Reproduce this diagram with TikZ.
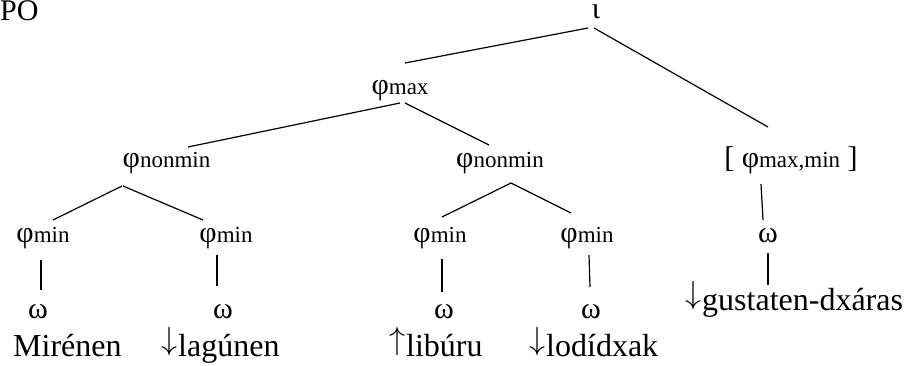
\documentclass[tikz,border=0pt]{standalone}
\usepackage{fontspec}
\usepackage{graphicx}
\setmainfont{Liberation Serif}
\usetikzlibrary{calc}
\newcommand\gksz{\fontsize{30}{36}\selectfont}
\newcommand\sxsz{\fontsize{23}{28}\selectfont}
\newcommand\wordsz{\fontsize{32}{38}\selectfont}
\newcommand\ph[1]{{\gksz φ}{\sxsz #1}}
\newcommand\darr{\resizebox{16pt}{!}{\raisebox{\depth}{$\downarrow$}}\kern1pt}
\newcommand\uarr{\resizebox{16pt}{!}{\raisebox{\depth}{$\uparrow$}}\kern1pt}
\tikzset{
  lab/.style={inner sep=0pt, anchor=base, font=\gksz},
  wordlab/.style={inner sep=0pt, anchor=base west, font=\wordsz},
  edge/.style={line width=1.2pt, black}
}
\begin{document}
\begin{tikzpicture}[x=1pt,y=-1pt]
\useasboundingbox (0,0) rectangle (907,366);
% nodes
\node[inner sep=0pt, anchor=base west, font=\gksz] (po) at (0,21) {PO};
\node[lab] (io) at (596,19) {ι};
\node[lab] (pmax) at (400,95) {\ph{max}};
\node[lab] (nmL) at (166.5,168) {\ph{nonmin}};
\node[lab] (nmM) at (500,168) {\ph{nonmin}};
\node[lab] (pmm) at (791,168) {[ \ph{max,min} ]};
\node[lab] (m1) at (43,242) {\ph{min}};
\node[lab] (m2) at (226,242) {\ph{min}};
\node[lab] (m3) at (440,242) {\ph{min}};
\node[lab] (m4) at (587,242) {\ph{min}};
\node[lab] (wR) at (768,242) {ω};
\node[lab] (w1) at (38,318) {ω};
\node[lab] (w2) at (223,318) {ω};
\node[lab] (w3) at (444,318) {ω};
\node[lab] (w4) at (591,318) {ω};
\node[wordlab] (gus) at (685,310) {\darr gustaten-dxáras};
\node[wordlab] (t1) at (13,356) {Mirénen};
\node[wordlab] (t2) at (161,356) {\darr lagúnen};
\node[wordlab] (t3) at (389,356) {\uarr libúru};
\node[wordlab] (t4) at (529,356) {\darr lodídxak};
% connectors
\draw[edge] ($(io.base)+(-8,9)$) -- ($(pmax.base)+(5,-32)$);
\draw[edge] ($(io.base)+(-2,9)$) -- ($(pmm.base)+(-23,-41)$);
\draw[edge] ($(pmax.base)+(0,8)$) -- ($(nmL.base)+(21.5,-21)$);
\draw[edge] ($(pmax.base)+(5,8)$) -- ($(nmM.base)+(-11,-23)$);
\draw[edge] ($(nmL.base)+(-44.5,18)$) -- ($(m1.base)+(10,-22)$);
\draw[edge] ($(nmL.base)+(-43.5,18)$) -- ($(m2.base)+(-23,-22)$);
\draw[edge] ($(nmM.base)+(11,15)$) -- ($(m3.base)+(2,-25)$);
\draw[edge] ($(nmM.base)+(11,15)$) -- ($(m4.base)+(-16,-29)$);
\draw[edge] ($(pmm.base)+(-30,16)$) -- ($(wR.base)+(-5,-22)$);
\draw[edge] ($(m1.base)+(-2,18)$) -- ($(w1.base)+(3,-28)$);
\draw[edge] ($(m2.base)+(-9,13)$) -- ($(w2.base)+(-6,-32)$);
\draw[edge] ($(m3.base)+(2,17)$) -- ($(w3.base)+(-2,-26)$);
\draw[edge] ($(m4.base)+(2,13)$) -- ($(w4.base)+(-1,-31)$);
\draw[edge] ($(wR.base)+(0,11)$) -- ($(gus.base west)+(83,-25)$);
\end{tikzpicture}
\end{document}
